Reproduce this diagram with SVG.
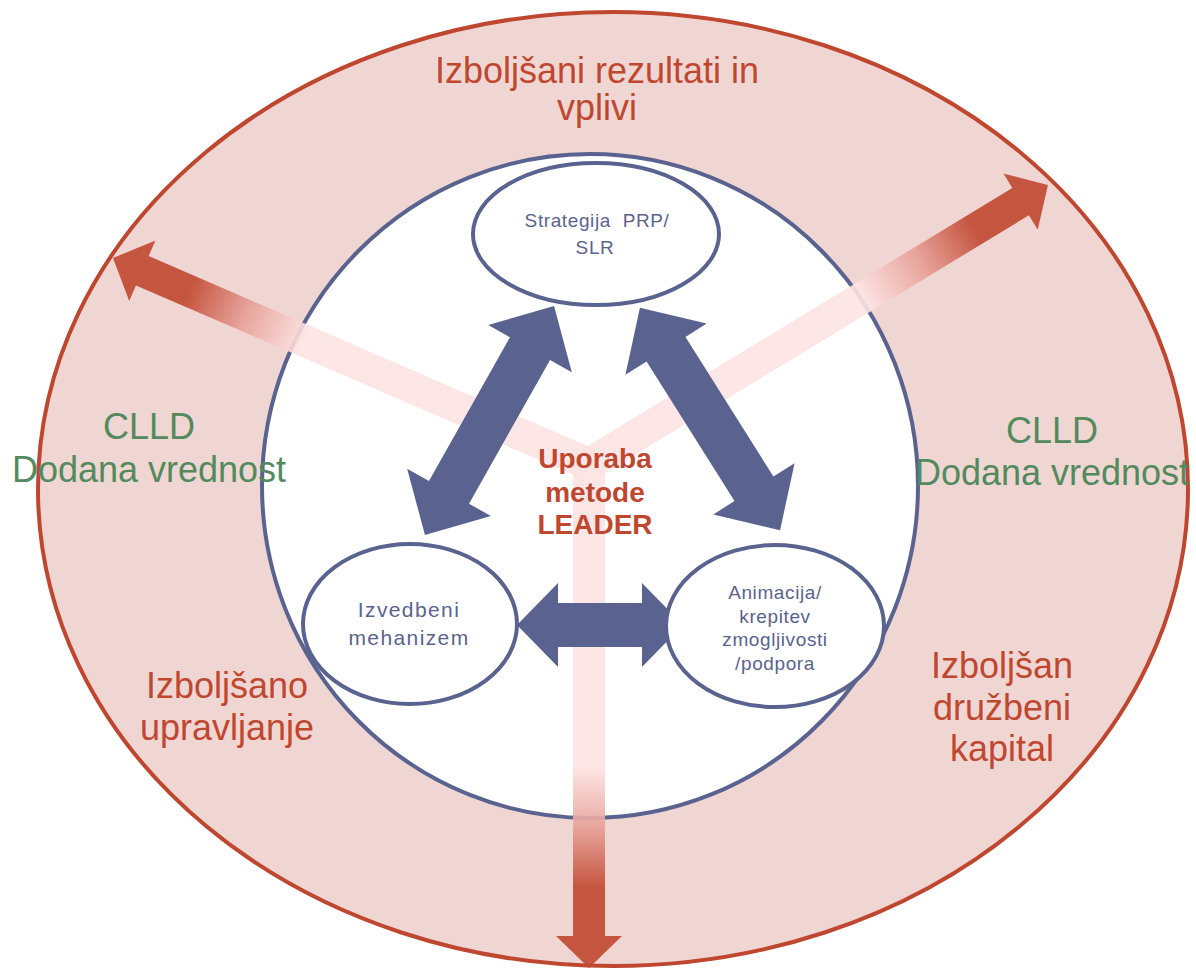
<svg xmlns="http://www.w3.org/2000/svg" width="1196" height="970" viewBox="0 0 1196 970">
<defs>
<style>
text{font-family:"Liberation Sans",Arial,sans-serif;text-anchor:middle}
.big{font-size:36px;fill:#C0472F}
.green{font-size:36px;fill:#538A5D}
.small{font-size:19px;fill:#5A6390;letter-spacing:0.6px}
.mid{font-size:21px;fill:#5A6390;letter-spacing:1.4px}
.lead{font-size:28px;font-weight:bold;fill:#C0472F}
.node{fill:#fff;stroke:#5A6390;stroke-width:4}
.blue{fill:#5A6390}
.red{fill:url(#rg);opacity:0.9}
</style>
<linearGradient id="rg" x1="0" y1="0" x2="1" y2="0">
<stop offset="0" stop-color="#FDE3E3"/>
<stop offset="0.6" stop-color="#FDE3E3"/>
<stop offset="0.72" stop-color="#E7A097"/>
<stop offset="0.84" stop-color="#C0472F"/>
<stop offset="1" stop-color="#C0472F"/>
</linearGradient>
</defs>
<g id="outer">
<ellipse cx="613" cy="489" rx="575" ry="477" fill="#F0D6D3" stroke="#C0472F" stroke-width="4"/>
</g>
<g id="inner">
<ellipse cx="590" cy="486" rx="328" ry="332" class="node"/>
</g>
<g id="connectors">
<path class="red" transform="translate(589,464) rotate(-156.6)" d="M0,-16 H486.7 V-33 L518.7,0 L486.7,33 V16 H0 Z"/>
<path class="red" transform="translate(589,464) rotate(-31.3)" d="M0,-16 H505.1 V-33 L537.1,0 L505.1,33 V16 H0 Z"/>
<path class="red" transform="translate(589,464) rotate(90)" d="M0,-16 H472 V-33 L504,0 L472,33 V16 H0 Z"/>
<path class="blue" transform="translate(489.5,420.5) rotate(-60.6)" d="M-131.5,0 L-82.5,-48 L-82.5,-23 L82.5,-23 L82.5,-48 L131.5,0 L82.5,48 L82.5,23 L-82.5,23 L-82.5,48 Z"/>
<path class="blue" transform="translate(710,419) rotate(57.8)" d="M-131.5,0 L-82.5,-48 L-82.5,-23 L82.5,-23 L82.5,-48 L131.5,0 L82.5,48 L82.5,23 L-82.5,23 L-82.5,48 Z"/>
<path class="blue" transform="translate(600,625)" d="M-83,0 L-42,-42 L-42,-22 L42,-22 L42,-42 L83,0 L42,42 L42,22 L-42,22 L-42,42 Z"/>
</g>
<g id="strategija">
<ellipse cx="596" cy="234" rx="123" ry="71" class="node"/>
<text class="small" x="597" y="227" xml:space="preserve">Strategija  PRP/</text>
<text class="small" x="595" y="254">SLR</text>
</g>
<g id="izvedbeni">
<ellipse cx="410" cy="624" rx="107" ry="80" class="node"/>
<text class="mid" x="409" y="617">Izvedbeni</text>
<text class="mid" x="409" y="645">mehanizem</text>
</g>
<g id="animacija">
<ellipse cx="775" cy="626" rx="109" ry="81" class="node"/>
<text class="small" x="775" y="599">Animacija/</text>
<text class="small" x="775" y="623">krepitev</text>
<text class="small" x="775" y="646">zmogljivosti</text>
<text class="small" x="775" y="670">/podpora</text>
</g>
<g id="center-label">
<text class="lead" x="595" y="468">Uporaba</text>
<text class="lead" x="595" y="502">metode</text>
<text class="lead" x="595" y="534">LEADER</text>
</g>
<g id="top-label">
<text class="big" x="597" y="83">Izboljšani rezultati in</text>
<text class="big" x="597" y="120">vplivi</text>
</g>
<g id="left-clld">
<text class="green" x="149" y="439">CLLD</text>
<text class="green" x="149" y="482">Dodana vrednost</text>
</g>
<g id="right-clld">
<text class="green" x="1052" y="443">CLLD</text>
<text class="green" x="1052" y="485">Dodana vrednost</text>
</g>
<g id="left-label">
<text class="big" x="227" y="698">Izboljšano</text>
<text class="big" x="227" y="740">upravljanje</text>
</g>
<g id="right-label">
<text class="big" x="1002" y="678">Izboljšan</text>
<text class="big" x="1002" y="720">družbeni</text>
<text class="big" x="1002" y="761">kapital</text>
</g>
</svg>
